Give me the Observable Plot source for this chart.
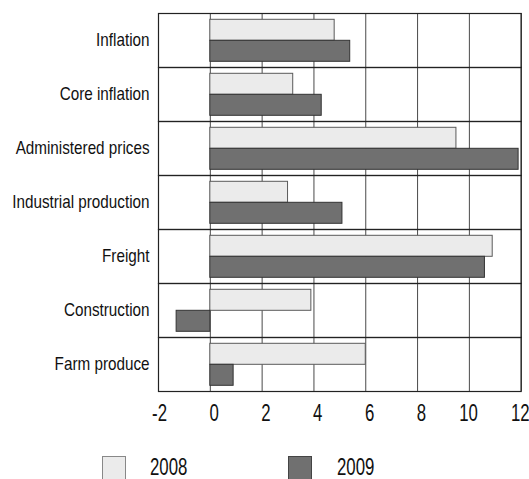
<!DOCTYPE html>
<html><head><meta charset="utf-8">
<script src="https://cdn.jsdelivr.net/npm/d3@7"></script>
<script src="https://cdn.jsdelivr.net/npm/@observablehq/plot@0.6"></script>
<style>
body{margin:0;background:#fff;font-family:"Liberation Sans",Arial,sans-serif;overflow:hidden}
#wrap{position:relative;width:529px;height:479px;overflow:hidden}
.sw{position:absolute;width:24px;height:25px;box-sizing:border-box}
.lt{position:absolute;font-size:23px;line-height:23px;color:#111;transform:scaleX(0.73);transform-origin:0 0;white-space:nowrap}
</style></head><body>
<div id="wrap"></div>
<script>
const categories = ["Inflation","Core inflation","Administered prices","Industrial production","Freight","Construction","Farm produce"];
const years = ["2008","2009"];
const values2008 = [4.8, 3.2, 9.5, 3.0, 10.9, 3.9, 6.0];
const values2009 = [5.4, 4.3, 11.9, 5.1, 10.6, -1.3, 0.9];
const xTicks = [-2, 0, 2, 4, 6, 8, 10, 12];
const fills = ["#ebebeb", "#707070"];
const strokes = ["#5a5a5a", "#333333"];

const data = [];
categories.forEach((c, i) => {
  data.push({category: c, year: years[0], value: values2008[i]});
  data.push({category: c, year: years[1], value: values2009[i]});
});

const TICK_FS = 23, CAT_FS = 18.6;
const chart = Plot.plot({
  width: 529,
  height: 440,
  marginLeft: 158,
  marginRight: 8.3,
  marginTop: 12.7,
  marginBottom: 48.3,
  style: {fontFamily: '"Liberation Sans",Arial,sans-serif', color: "#111", background: "#fff", overflow: "visible"},
  x: {domain: [-2, 12], ticks: xTicks},
  fy: {domain: categories, padding: 0},
  y: {domain: years, paddingInner: 0, paddingOuter: 0.23, axis: null},
  color: {domain: years, range: fills},
  marks: [
    Plot.ruleX(xTicks, {stroke: "#4a4a4a", strokeWidth: 1}),
    Plot.frame({stroke: "#222", strokeWidth: 1.2}),
    Plot.barX(data, {
      x: "value", y: "year", fy: "category", fill: "year",
      stroke: d => d.year === years[0] ? strokes[0] : strokes[1], strokeWidth: 1
    }),
    Plot.axisX({ticks: xTicks, tickSize: 0, tickPadding: 13, fontSize: TICK_FS, textAnchor: "end", dx: 8.5, label: null, tickFormat: d => String(d)}),
    Plot.axisFy({anchor: "left", tickSize: 0, tickPadding: 9, fontSize: CAT_FS, label: null})
  ]
});
const wrap = document.getElementById("wrap");
wrap.appendChild(chart);

// condense glyphs horizontally around each label's anchor point
chart.querySelectorAll("text").forEach(t => {
  const fs = parseFloat(getComputedStyle(t).fontSize);
  const s = fs > 21 ? 0.73 : 0.82;
  const tr = t.getAttribute("transform") || "";
  t.setAttribute("transform", (tr + ` scale(${s},1)`).trim());
});

const legendPos = [{sw: 102, tx: 150}, {sw: 288, tx: 337}];
years.forEach((y, i) => {
  const s = document.createElement("div");
  s.className = "sw";
  s.style.left = legendPos[i].sw + "px";
  s.style.top = "456px";
  s.style.background = fills[i];
  s.style.border = "1px solid " + (i === 0 ? "#888" : "#444");
  wrap.appendChild(s);
  const t = document.createElement("div");
  t.className = "lt";
  t.style.left = legendPos[i].tx + "px";
  t.style.top = "456px";
  t.textContent = y;
  wrap.appendChild(t);
});
</script>
</body></html>
